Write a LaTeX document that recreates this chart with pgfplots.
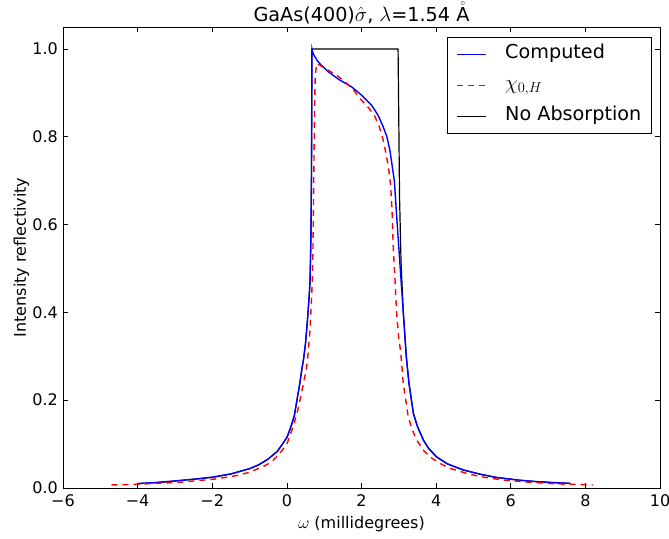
\documentclass[border=0pt]{standalone}
\usepackage{fontspec}
\setmainfont{DejaVu Sans}
\usepackage{pgfplots}
\pgfplotsset{compat=1.18}
\begin{document}
\begin{tikzpicture}
\begin{axis}[
 width=597pt, height=461pt, scale only axis,
 xmin=-6, xmax=10, ymin=0, ymax=1.05,
 xtick={-6,-4,-2,0,2,4,6,8,10}, xticklabels={−6,−4,−2,0,2,4,6,8,10},
 ytick={0,0.2,0.4,0.6,0.8,1.0}, yticklabels={0.0,0.2,0.4,0.6,0.8,1.0},
 tick align=inside, major tick length=5pt, minor tick num=0,
 tick style={black, line width=0.6pt},
 ticklabel style={font=\fontsize{16}{16}\selectfont, inner sep=0pt},
 xticklabel style={anchor=base, yshift=-18pt},
 yticklabel style={anchor=base east, xshift=-5pt, yshift=-5.8pt},
 xlabel={$\omega$ (millidegrees)}, ylabel={Intensity reflectivity},
 xlabel style={at={(axis description cs:0.5,-0.087)}, anchor=base, inner sep=0pt},
 ylabel style={at={(axis description cs:-0.062,0.5)}, anchor=base, rotate=0, inner sep=0pt},
 label style={font=\fontsize{16}{16}\selectfont},
 title={GaAs(400)$\hat{\sigma}$, $\lambda$=1.54 $\mathring{\mathrm{A}}$},
 title style={at={(axis description cs:0.5,1)}, anchor=base, yshift=-1pt, inner sep=0pt, font=\fontsize{19.2}{19.2}\selectfont},
 axis line style={line width=0.8pt},
 legend style={at={(rel axis cs:0.985,0.978)}, anchor=north east, draw,
   font=\fontsize{19.2}{19.2}\selectfont, inner xsep=9.5pt, inner ysep=8.5pt, row sep=14pt,
   nodes={inner sep=0pt, text height=13pt, text depth=4pt}},
 legend cell align=left,
 legend image post style={line width=1.5pt},
 legend image code/.code={\draw[#1] (0pt,0pt) -- (29pt,0pt); \path (47pt,0pt);},
]
\addplot[color=black, line width=1.2pt, forget plot] coordinates {
(-4.0,0.0100) (-3.5,0.0125) (-3.0,0.0160) (-2.5,0.0200) (-2.0,0.0245) (-1.5,0.0320)
(-1.0,0.0440) (-0.75,0.0530) (-0.5,0.0660) (-0.25,0.0840) (0.0,0.115) (0.1,0.137)
(0.2,0.165) (0.3,0.215) (0.35,0.24) (0.4,0.27) (0.45,0.295) (0.5,0.33) (0.55,0.38)
(0.6,0.44) (0.62,0.47) (0.64,0.55) (0.65,0.62) (0.66,0.72) (0.665,0.85) (0.67,1.0)
(2.98,1.0) (3.0,0.831) (3.02,0.661) (3.06,0.514) (3.12,0.40) (3.2,0.30) (3.27,0.24)
(3.39,0.17) (3.5,0.14) (3.66,0.109) (3.8,0.09) (4.01,0.071) (4.3,0.055) (4.73,0.041)
(5.2,0.031) (5.62,0.024) (6.2,0.018) (6.69,0.0145) (7.2,0.012) (7.6,0.0105)
};
\addplot[color=blue, line width=1.4pt] coordinates {
(-4.0,0.0100) (-3.5,0.0125) (-3.0,0.0160) (-2.5,0.0200) (-2.0,0.0245) (-1.5,0.0320)
(-1.0,0.0440) (-0.75,0.0530) (-0.5,0.0660) (-0.25,0.0840) (0.0,0.115) (0.1,0.137)
(0.2,0.165) (0.3,0.215) (0.35,0.24) (0.4,0.27) (0.45,0.295) (0.5,0.33) (0.55,0.38)
(0.6,0.44) (0.62,0.47) (0.64,0.55) (0.65,0.62) (0.66,0.72) (0.665,0.85) (0.67,0.95)
(0.672,1.0) (0.7,0.99) (0.8,0.975) (0.9,0.965) (1.11,0.948) (1.4,0.93) (1.73,0.914)
(2.0,0.895) (2.27,0.872) (2.45,0.848) (2.58,0.823) (2.68,0.80) (2.76,0.77) (2.82,0.735)
(2.88,0.70) (2.95,0.61) (3.03,0.51) (3.12,0.40) (3.2,0.30) (3.27,0.24) (3.39,0.17)
(3.5,0.14) (3.66,0.109) (3.8,0.09) (4.01,0.071) (4.3,0.055) (4.73,0.041) (5.2,0.031)
(5.62,0.024) (6.2,0.018) (6.69,0.0145) (7.2,0.012) (7.6,0.0105)
};
\addlegendentry{Computed}
\addplot[color=red, line width=1.4pt, dash pattern=on 6pt off 5pt] coordinates {
(-4.7,0.0070) (-4.0,0.0085) (-3.5,0.0105) (-2.87,0.013) (-2.5,0.016) (-1.97,0.020)
(-1.5,0.026) (-1.26,0.030) (-1.0,0.036) (-0.63,0.049) (-0.4,0.060) (-0.19,0.079)
(0.0,0.100) (0.17,0.14) (0.3,0.18) (0.35,0.20) (0.45,0.24) (0.53,0.276) (0.57,0.307)
(0.62,0.36) (0.66,0.43) (0.68,0.47) (0.70,0.55) (0.72,0.70) (0.74,0.85) (0.76,0.94)
(0.80,0.967) (0.9,0.962) (1.02,0.956) (1.3,0.942) (1.55,0.926) (1.8,0.905) (1.99,0.884)
(2.2,0.865) (2.36,0.846) (2.48,0.822) (2.58,0.793) (2.66,0.76) (2.72,0.732) (2.78,0.69)
(2.82,0.63) (2.85,0.55) (2.9,0.47) (2.94,0.40) (3.0,0.34) (3.05,0.31) (3.12,0.238)
(3.25,0.163) (3.35,0.135) (3.48,0.109) (3.65,0.087) (3.83,0.071) (4.1,0.056) (4.37,0.045)
(4.75,0.035) (5.17,0.026) (5.8,0.018) (6.51,0.013) (7.2,0.0095) (8.2,0.0068)
};
\addlegendentry{$\chi_{0,H}$}
\addlegendimage{color=black, line width=1.2pt}
\addlegendentry{No Absorption}
\end{axis}
\pgfresetboundingbox
\path (current axis.south west) ++(-63pt,-50pt) coordinate (bbA);
\path (current axis.north east) ++(9pt,27pt) coordinate (bbB);
\useasboundingbox (bbA) rectangle (bbB);
\end{tikzpicture}
\end{document}
